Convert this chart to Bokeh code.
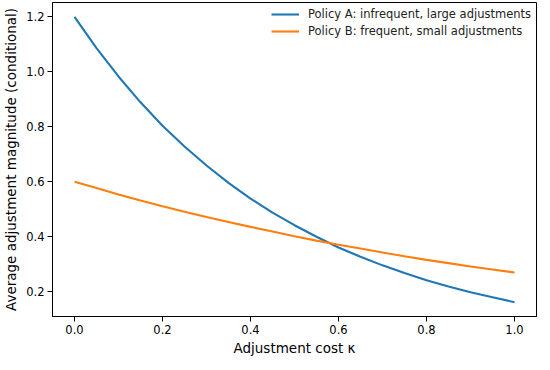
from bokeh.plotting import figure
from bokeh.models import Range1d, FixedTicker, PrintfTickFormatter, Legend, LegendItem
from bokeh.embed import file_html
from bokeh.resources import INLINE

kappa = [0.0, 0.05, 0.1, 0.15, 0.2, 0.25, 0.3, 0.35, 0.4, 0.45, 0.5,
         0.55, 0.6, 0.65, 0.7, 0.75, 0.8, 0.85, 0.9, 0.95, 1.0]
policy_a = [1.200, 1.086, 0.983, 0.889, 0.804, 0.728, 0.659, 0.596, 0.539, 0.488, 0.442,
            0.400, 0.361, 0.327, 0.296, 0.268, 0.242, 0.219, 0.198, 0.180, 0.162]
policy_b = [0.600, 0.577, 0.554, 0.532, 0.511, 0.491, 0.472, 0.454, 0.436, 0.419, 0.402,
            0.386, 0.371, 0.357, 0.343, 0.329, 0.316, 0.304, 0.292, 0.281, 0.270]
x_ticks = [0.0, 0.2, 0.4, 0.6, 0.8, 1.0]
y_ticks = [0.2, 0.4, 0.6, 0.8, 1.0, 1.2]
label_a = "Policy A: infrequent, large adjustments"
label_b = "Policy B: frequent, small adjustments"

FONT = "DejaVu Sans"

p = figure(frame_width=484, frame_height=314, output_backend="svg", toolbar_location=None,
           x_range=Range1d(-0.05, 1.05), y_range=Range1d(0.110, 1.252),
           min_border_left=0, min_border_right=2, min_border_top=2, min_border_bottom=0)

p.xgrid.visible = False
p.ygrid.visible = False
p.outline_line_color = "black"
p.outline_line_width = 1
p.outline_line_alpha = 1
p.background_fill_color = "white"
p.border_fill_color = "white"

ra = p.line(kappa, policy_a, line_color="#1f77b4", line_width=2.1)
rb = p.line(kappa, policy_b, line_color="#ff7f0e", line_width=2.1)

for ax in (p.xaxis[0], p.yaxis[0]):
    ax.axis_line_color = "black"
    ax.major_tick_line_color = "black"
    ax.major_tick_out = 5
    ax.major_tick_in = 0
    ax.minor_tick_line_color = None
    ax.major_label_text_font = FONT
    ax.major_label_text_font_size = "11.5px"
    ax.major_label_text_color = "black"
    ax.major_label_standoff = 3
    ax.axis_label_text_font = FONT
    ax.axis_label_text_font_size = "13.5px"
    ax.axis_label_text_font_style = "normal"
    ax.axis_label_text_color = "black"
    ax.formatter = PrintfTickFormatter(format="%.1f")

p.xaxis[0].ticker = FixedTicker(ticks=x_ticks)
p.yaxis[0].ticker = FixedTicker(ticks=y_ticks)
p.xaxis[0].axis_label = "Adjustment cost \u03ba"
p.yaxis[0].axis_label = "Average adjustment magnitude (conditional)"
p.xaxis[0].axis_label_standoff = 3
p.yaxis[0].axis_label_standoff = 4

legend = Legend(items=[LegendItem(label=label_a, renderers=[ra]),
                       LegendItem(label=label_b, renderers=[rb])],
                location="top_right")
legend.border_line_alpha = 0
legend.background_fill_alpha = 0
legend.label_text_font = FONT
legend.label_text_font_size = "11.5px"
legend.label_text_color = "#222222"
legend.glyph_width = 28
legend.glyph_height = 14
legend.label_height = 14
legend.label_standoff = 9
legend.spacing = 3
legend.padding = 4
legend.margin = 1
p.add_layout(legend)

open("out.html", "w").write(file_html(p, INLINE))
